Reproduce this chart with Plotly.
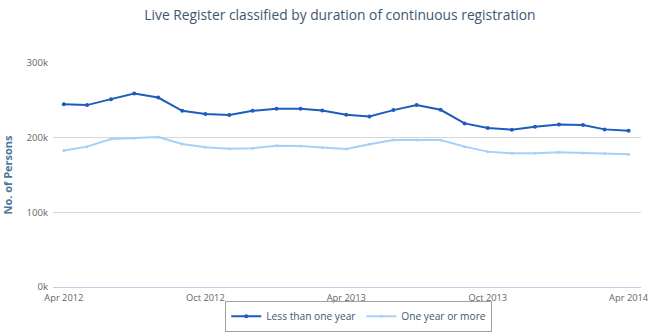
import plotly.graph_objects as go
import pandas as pd

months = pd.date_range("2012-04-01", "2014-04-01", freq="MS")

less_than_one_year = [244900, 243600, 251600, 259000, 253700, 236000, 231600, 230300,
                      236000, 238700, 238700, 236400, 230700, 228400, 236900, 243600,
                      237300, 219100, 212900, 210700, 214700, 217700, 216900, 211100, 209300]
one_year_or_more = [182700, 188000, 198200, 199100, 200900, 191600, 187100, 185300,
                    185800, 189300, 188900, 186700, 184900, 191100, 196900, 196900,
                    196900, 188000, 181300, 179100, 179100, 180400, 179600, 178700, 177800]

y_tick_vals = [0, 100000, 200000, 300000]
y_tick_text = ["0k", "100k", "200k", "300k"]
x_tick_vals = ["2012-04-01", "2012-10-01", "2013-04-01", "2013-10-01", "2014-04-01"]
x_tick_text = ["Apr 2012", "Oct 2012", "Apr 2013", "Oct 2013", "Apr 2014"]

font_family = "Open Sans, sans-serif"

fig = go.Figure()
fig.add_trace(go.Scatter(
    x=months, y=less_than_one_year, name="Less than one year",
    mode="lines+markers",
    line=dict(color="#1c5cbd", width=2),
    marker=dict(size=4, color="#1c5cbd"),
))
fig.add_trace(go.Scatter(
    x=months, y=one_year_or_more, name="One year or more",
    mode="lines+markers",
    line=dict(color="#a6d0f7", width=2),
    marker=dict(size=3, color="#a6d0f7"),
))

fig.update_layout(
    width=650, height=333,
    margin=dict(l=53, r=9, t=63, b=46, autoexpand=False),
    paper_bgcolor="white", plot_bgcolor="white",
    font=dict(family=font_family, color="#666666", size=10),
    title=dict(text="Live Register classified by duration of continuous registration",
               x=0.523, xanchor="center", y=0.955, yanchor="middle",
               font=dict(size=13.8, color="#3e576f", family=font_family)),
    showlegend=True,
    legend=dict(orientation="h", x=0.52, xanchor="center", y=-0.2, yanchor="bottom",
                bordercolor="#a0a0a0", borderwidth=1, bgcolor="rgba(255,255,255,0)",
                font=dict(size=10.2, color="#3e576f", family=font_family),
                itemwidth=30, tracegroupgap=0),
    xaxis=dict(
        range=["2012-03-18", "2014-04-17"],
        tickvals=x_tick_vals, ticktext=x_tick_text,
        showgrid=False, showline=True, linecolor="#c0d0e0", linewidth=1,
        ticks="", tickfont=dict(size=9.3, color="#666666"),
        ticklabeloverflow="allow", ticklabelstandoff=2,
        zeroline=False, fixedrange=True, automargin=False,
    ),
    yaxis=dict(
        range=[0, 300000],
        tickvals=y_tick_vals, ticktext=y_tick_text,
        showgrid=True, gridcolor="#d8d8d8", gridwidth=1,
        showline=False, zeroline=False, ticks="",
        tickfont=dict(size=9.6, color="#666666"), automargin=False,
        ticklabelstandoff=4,
        title=dict(text="<b>No. of Persons</b>", standoff=14,
                   font=dict(size=11, color="#4d759e", family=font_family)),
    ),
)

fig.write_html("out.html")
